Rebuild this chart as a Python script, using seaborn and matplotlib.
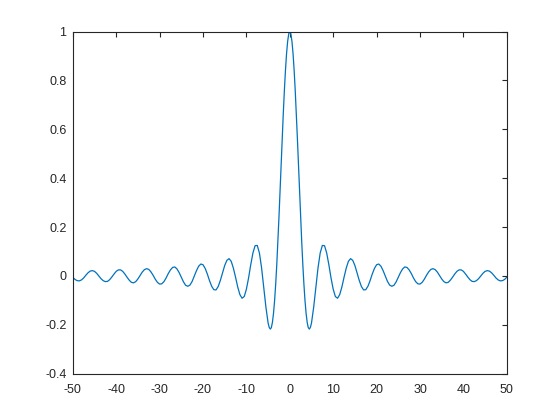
import numpy as np
import pandas as pd
import matplotlib
matplotlib.use("Agg")
import matplotlib.pyplot as plt
import seaborn as sns

# curve samples (0.5 step outside, 0.25 step in the middle)
x_left = np.arange(-50, -5, 0.5)
y_left = [-0.005, -0.014, -0.019, -0.020, -0.016, -0.008, 0.003, 0.013, 0.020, 0.022,
          0.019, 0.011, 0.000, -0.011, -0.019, -0.023, -0.022, -0.015, -0.004, 0.008,
          0.019, 0.025, 0.025, 0.019, 0.008, -0.005, -0.017, -0.026, -0.028, -0.023,
          -0.012, 0.002, 0.016, 0.026, 0.030, 0.027, 0.017, 0.003, -0.013, -0.026,
          -0.033, -0.032, -0.023, -0.008, 0.010, 0.025, 0.035, 0.037, 0.029, 0.014,
          -0.005, -0.024, -0.038, -0.042, -0.037, -0.022, 0.000, 0.022, 0.040, 0.049,
          0.046, 0.031, 0.008, -0.019, -0.042, -0.056, -0.057, -0.043, -0.018, 0.013,
          0.043, 0.064, 0.071, 0.060, 0.032, -0.005, -0.045, -0.076, -0.091, -0.084,
          -0.054, -0.008, 0.046, 0.094, 0.124, 0.125, 0.094, 0.033, -0.047, -0.128]

x_mid = np.arange(-5, 5, 0.25)
y_mid = [-0.192, -0.210, -0.217, -0.211, -0.189, -0.152, -0.100, -0.033, 0.047, 0.139,
         0.239, 0.346, 0.455, 0.562, 0.665, 0.759, 0.841, 0.909, 0.959, 0.990,
         1.000, 0.990, 0.959, 0.909, 0.841, 0.759, 0.665, 0.562, 0.455, 0.346,
         0.239, 0.139, 0.047, -0.033, -0.100, -0.152, -0.189, -0.211, -0.217, -0.210]

x_right = np.arange(5, 50.5, 0.5)
y_right = [-0.192, -0.128, -0.047, 0.033, 0.094, 0.125, 0.124, 0.094, 0.046, -0.008,
           -0.054, -0.084, -0.091, -0.076, -0.045, -0.005, 0.032, 0.060, 0.071, 0.064,
           0.043, 0.013, -0.018, -0.043, -0.057, -0.056, -0.042, -0.019, 0.008, 0.031,
           0.046, 0.049, 0.040, 0.022, 0.000, -0.022, -0.037, -0.042, -0.038, -0.024,
           -0.005, 0.014, 0.029, 0.037, 0.035, 0.025, 0.010, -0.008, -0.023, -0.032,
           -0.033, -0.026, -0.013, 0.003, 0.017, 0.027, 0.030, 0.026, 0.016, 0.002,
           -0.012, -0.023, -0.028, -0.026, -0.017, -0.005, 0.008, 0.019, 0.025, 0.025,
           0.019, 0.008, -0.004, -0.015, -0.022, -0.023, -0.019, -0.011, 0.000, 0.011,
           0.019, 0.022, 0.020, 0.013, 0.003, -0.008, -0.016, -0.020, -0.019, -0.014,
           -0.005]

x_ticks = [-50, -40, -30, -20, -10, 0, 10, 20, 30, 40, 50]
y_ticks = [-0.4, -0.2, 0, 0.2, 0.4, 0.6, 0.8, 1]
y_labels = ["-0.4", "-0.2", "0", "0.2", "0.4", "0.6", "0.8", "1"]

df = pd.DataFrame({
    "x": np.concatenate([x_left, x_mid, x_right]),
    "y": y_left + y_mid + y_right,
})

sns.set_style("white")
axis_col = (0.15, 0.15, 0.15)
plt.rcParams["font.family"] = ["Liberation Sans", "DejaVu Sans"]
plt.rcParams["axes.unicode_minus"] = False

fig = plt.figure(figsize=(5.6, 4.2), dpi=100)
ax = fig.add_axes([0.13, 0.11, 0.775, 0.815])
sns.lineplot(data=df, x="x", y="y", ax=ax, color="#0072BD", linewidth=0.9,
             sort=False, estimator=None)

ax.set_xlim(-50, 50)
ax.set_ylim(-0.4, 1)
ax.set_xticks(x_ticks)
ax.set_xticklabels([str(t) for t in x_ticks])
ax.set_yticks(y_ticks)
ax.set_yticklabels(y_labels)
ax.set_xlabel("")
ax.set_ylabel("")
for s in ax.spines.values():
    s.set_visible(True)
    s.set_color(axis_col)
    s.set_linewidth(0.8)
ax.tick_params(direction="in", length=3.5, width=0.8, colors=axis_col,
               labelsize=9, top=True, right=True)
ax.tick_params(axis="x", pad=7.5)
ax.tick_params(axis="y", pad=4.5)

fig.savefig("out.png", dpi=100)
